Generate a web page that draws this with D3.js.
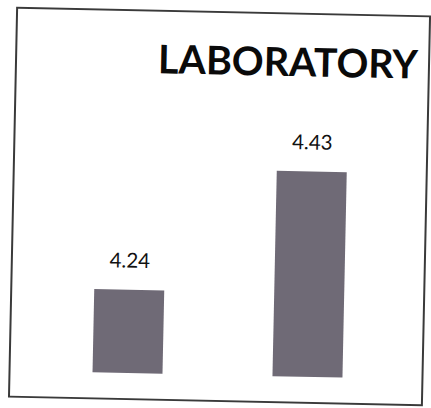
<!DOCTYPE html>
<html>
<head>
<meta charset="utf-8">
<script src="https://cdn.jsdelivr.net/npm/d3@7"></script>
<style>
  html, body { margin: 0; padding: 0; background: #ffffff; }
  svg { display: block; }
</style>
</head>
<body>
<script>
const categories = ["A", "B"];
const values = [4.24, 4.43];
const valueLabels = ["4.24", "4.43"];
const title = "LABORATORY";

const W = 431, H = 408;
const svg = d3.select("body").append("svg").attr("width", W).attr("height", H);

const g = svg.append("g").attr("transform", "rotate(1.2 220 207)");

// frame
g.append("rect")
  .attr("x", 13).attr("y", 12).attr("width", 413).attr("height", 389)
  .attr("fill", "none").attr("stroke", "#3a3a3a").attr("stroke-width", 2);

const x = d3.scalePoint().domain(categories).range([41, 401]).padding(0.5);
const y = d3.scaleLinear().domain([4.11, 4.5]).range([375, 124.6]);
const barW = 70;

g.selectAll("rect.bar").data(values).join("rect")
  .attr("class", "bar")
  .attr("x", (d, i) => x(categories[i]) - barW / 2)
  .attr("width", barW)
  .attr("y", d => y(d))
  .attr("height", d => y(4.11) - y(d))
  .attr("fill", "#6f6a76");

g.selectAll("text.val").data(values).join("text")
  .attr("class", "val")
  .attr("x", (d, i) => x(categories[i]))
  .attr("y", d => y(d) - 22)
  .attr("text-anchor", "middle")
  .attr("font-family", "Lato, 'Open Sans', sans-serif")
  .attr("font-size", 20.5)
  .attr("fill", "#111")
  .text((d, i) => valueLabels[i]);

const t = g.append("text")
  .attr("x", 155).attr("y", 74.5)
  .attr("font-family", "Lato, 'Open Sans', sans-serif")
  .attr("font-weight", "bold")
  .attr("font-size", 40)
  .attr("fill", "#0a0a0a")
  .text(title);
const natural = t.node().getComputedTextLength();
if (natural > 0) t.attr("font-size", 40 * 260 / natural);
</script>
</body>
</html>
